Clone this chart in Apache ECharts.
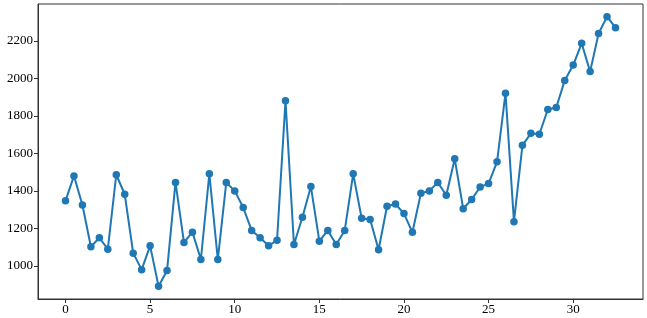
<!DOCTYPE html>
<html>
<head>
<meta charset="utf-8">
<script src="https://cdn.jsdelivr.net/npm/echarts@6/dist/echarts.min.js"></script>
<style>
html,body{margin:0;padding:0;background:#fff;}
#chart{width:647px;height:318px;}
</style>
</head>
<body>
<div id="chart"></div>
<script>
const xValues = [0,0.5,1,1.5,2,2.5,3,3.5,4,4.5,5,5.5,6,6.5,7,7.5,8,8.5,9,9.5,10,10.5,11,11.5,12,12.5,13,13.5,14,14.5,15,15.5,16,16.5,17,17.5,18,18.5,19,19.5,20,20.5,21,21.5,22,22.5,23,23.5,24,24.5,25,25.5,26,26.5,27,27.5,28,28.5,29,29.5,30,30.5,31,31.5,32,32.5];
const yValues = [1347,1480,1325,1102,1150,1089,1486,1382,1068,980,1107,891,975,1445,1125,1180,1034,1491,1034,1445,1400,1311,1189,1150,1107,1137,1880,1114,1259,1423,1132,1189,1114,1189,1491,1254,1248,1086,1318,1330,1279,1179,1387,1400,1445,1377,1571,1305,1354,1421,1439,1555,1921,1236,1643,1707,1702,1834,1845,1989,2071,2187,2036,2239,2329,2270];
const xTicks = [0,5,10,15,20,25,30];
const yTicks = [1000,1200,1400,1600,1800,2000,2200];

const data = xValues.map((x,i)=>[x,yValues[i]]);
const axisColor = '#333';
const fontFamily = 'Liberation Serif';

const chart = echarts.init(document.getElementById('chart'), null, {renderer:'canvas'});
chart.setOption({
  animation:false,
  backgroundColor:'#fff',
  grid:{left:38,right:4,top:4,bottom:19,show:true,borderColor:axisColor,borderWidth:1,backgroundColor:'transparent'},
  xAxis:{
    type:'value', min:-1.625, max:34.125,
    axisLine:{show:true,onZero:false,lineStyle:{color:axisColor,width:1}},
    axisTick:{show:true,length:4,customValues:xTicks,lineStyle:{color:axisColor}},
    axisLabel:{customValues:xTicks,color:'#000',fontSize:13,fontFamily:fontFamily,margin:4,formatter:v=>String(v)},
    splitLine:{show:false}
  },
  yAxis:{
    type:'value', min:823.5, max:2396.5,
    axisLine:{show:true,onZero:false,lineStyle:{color:axisColor,width:1}},
    axisTick:{show:true,length:4,customValues:yTicks,lineStyle:{color:axisColor}},
    axisLabel:{customValues:yTicks,color:'#000',fontSize:13,fontFamily:fontFamily,margin:5,formatter:v=>String(v)},
    splitLine:{show:false}
  },
  series:[{
    type:'line',
    data:data,
    symbol:'circle',
    symbolSize:7.5,
    lineStyle:{color:'#1f77b4',width:2},
    itemStyle:{color:'#1f77b4'},
    z:3
  }]
});
</script>
</body>
</html>
